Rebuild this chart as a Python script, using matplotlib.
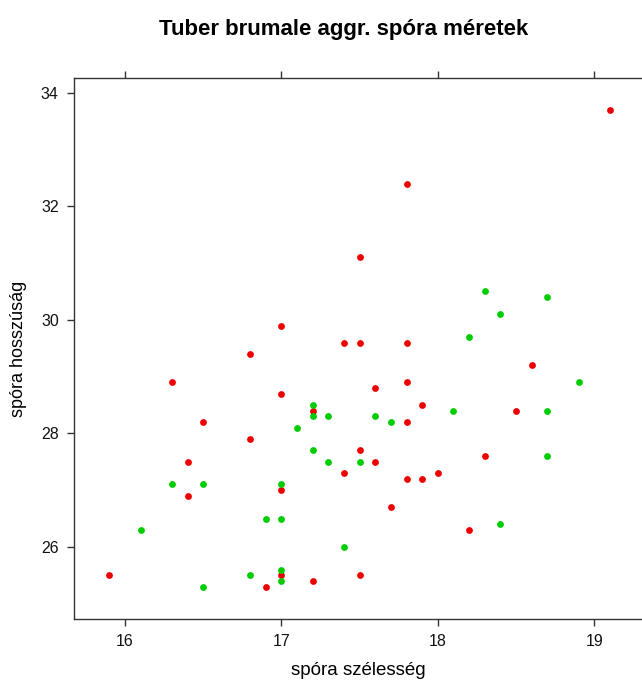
import numpy as np
import matplotlib
matplotlib.use("Agg")
from matplotlib import pyplot as plt

plt.rcParams['font.family'] = ['Liberation Sans', 'DejaVu Sans']

# red group
red_x = [15.9, 16.3, 16.4, 16.4, 16.5, 16.8, 16.8, 16.9, 17.0, 17.0, 17.0, 17.0,
         17.2, 17.2, 17.4, 17.4, 17.5, 17.5, 17.5, 17.5, 17.6, 17.6, 17.7, 17.8,
         17.8, 17.8, 17.8, 17.8, 17.9, 17.9, 18.0, 18.2, 18.3, 18.5, 18.6, 19.1]
red_y = [25.5, 28.9, 27.5, 26.9, 28.2, 29.4, 27.9, 25.3, 29.9, 28.7, 27.0, 25.5,
         28.4, 25.4, 29.6, 27.3, 31.1, 29.6, 27.7, 25.5, 28.8, 27.5, 26.7, 32.4,
         29.6, 28.9, 28.2, 27.2, 28.5, 27.2, 27.3, 26.3, 27.6, 28.4, 29.2, 33.7]

# green group
green_x = [16.1, 16.3, 16.5, 16.5, 16.8, 16.9, 17.0, 17.0, 17.0, 17.0, 17.1, 17.2,
           17.2, 17.2, 17.3, 17.3, 17.4, 17.5, 17.6, 17.7, 18.1, 18.2, 18.3, 18.4,
           18.4, 18.7, 18.7, 18.7, 18.9]
green_y = [26.3, 27.1, 27.1, 25.3, 25.5, 26.5, 27.1, 26.5, 25.6, 25.4, 28.1, 28.5,
           28.3, 27.7, 28.3, 27.5, 26.0, 27.5, 28.3, 28.2, 28.4, 29.7, 30.5, 30.1,
           26.4, 30.4, 28.4, 27.6, 28.9]

xticks = [16, 17, 18, 19]
yticks = [26, 28, 30, 32, 34]

fig = plt.figure(figsize=(6.42, 6.81), dpi=100)
# right edge of the box falls just outside the picture, as in the original
ax = fig.add_axes([74/642, 1-619/681, (643.5-74)/642, (619-78)/681])

ax.scatter(red_x, red_y, s=24, color='#ee0000', linewidths=0, zorder=3)
ax.scatter(green_x, green_y, s=24, color='#00cd00', linewidths=0, zorder=3)

ax.set_xlim(15.674, 15.674 + (643.5-74)/156.4)
ax.set_ylim(24.73, 34.26)
ax.set_xticks(xticks)
ax.set_yticks(yticks)
ax.tick_params(direction='out', length=5, width=1, colors='#333333', pad=6,
               labelsize=11.5, top=True, labeltop=False, right=False)
ax.tick_params(labelcolor='#111111')
for s in ax.spines.values():
    s.set_color('#333333')
    s.set_linewidth(1)

ax.set_xlabel('spóra szélesség', fontsize=13.5, labelpad=9)
ax.set_ylabel('spóra hosszúság', fontsize=13, labelpad=10)
fig.text(344/642, 1-29/681, 'Tuber brumale aggr. spóra méretek',
         ha='center', va='center', fontsize=16, fontweight='bold')

fig.savefig('out.png', dpi=100)
